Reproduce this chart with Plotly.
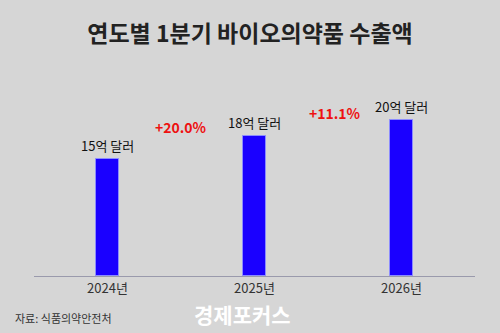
import plotly.graph_objects as go

years = ["2024년", "2025년", "2026년"]
values = [15, 18, 20]
value_labels = ["15억 달러", "18억 달러", "20억 달러"]
growth_labels = ["+20.0%", "+11.1%"]

FONT = "Noto Sans CJK KR"
L, R, T, B = 34, 25, 81, 57
PW, PH = 500 - L - R, 333 - T - B

def px_x(p):
    return (p - L) / PW

def px_y(p):
    return (333 - B - p) / PH

fig = go.Figure()
fig.add_trace(go.Bar(
    x=years, y=values, width=0.15,
    marker=dict(color="#1a00ff", line=dict(color="#8c8cff", width=1)),
    cliponaxis=False,
))

for xv, yv, lab in zip(years, values, value_labels):
    fig.add_annotation(x=xv, y=yv, xref="x", yref="y", text=lab, showarrow=False,
                       yanchor="bottom", yshift=2,
                       font=dict(family=FONT, size=13, color="#111111"))

fig.update_layout(
    width=500, height=333,
    paper_bgcolor="#d6d6d6", plot_bgcolor="#d6d6d6",
    margin=dict(l=L, r=R, t=T, b=B),
    showlegend=False,
    bargap=0,
    title=dict(text="<b>연도별 1분기 바이오의약품 수출액</b>", x=0.5, xanchor="center",
               y=1 - 34/333, yanchor="middle",
               font=dict(family=FONT, size=23, color="#222222")),
    xaxis=dict(showline=True, linecolor="#9a9aac", linewidth=1, ticks="",
               tickfont=dict(family=FONT, size=13, color="#333333"), showgrid=False),
    yaxis=dict(range=[0, 25], visible=False, showgrid=False),
)

fig.add_annotation(x=0.5, y=19.1, xref="x", yref="y", text="<b>" + growth_labels[0] + "</b>",
                   showarrow=False, font=dict(family=FONT, size=14, color="#ee1111"))
fig.add_annotation(x=1.55, y=20.9, xref="x", yref="y", text="<b>" + growth_labels[1] + "</b>",
                   showarrow=False, font=dict(family=FONT, size=14, color="#ee1111"))
fig.add_annotation(x=px_x(13), y=px_y(318), xref="paper", yref="paper", xanchor="left", yanchor="middle",
                   text="자료: 식품의약안전처", showarrow=False,
                   font=dict(family=FONT, size=11, color="#333333"))
fig.add_annotation(x=px_x(242), y=px_y(314), xref="paper", yref="paper", xanchor="center", yanchor="middle",
                   text="<b>경제포커스</b>", showarrow=False,
                   font=dict(family=FONT, size=21, color="#ffffff"))

fig.write_html("out.html")
